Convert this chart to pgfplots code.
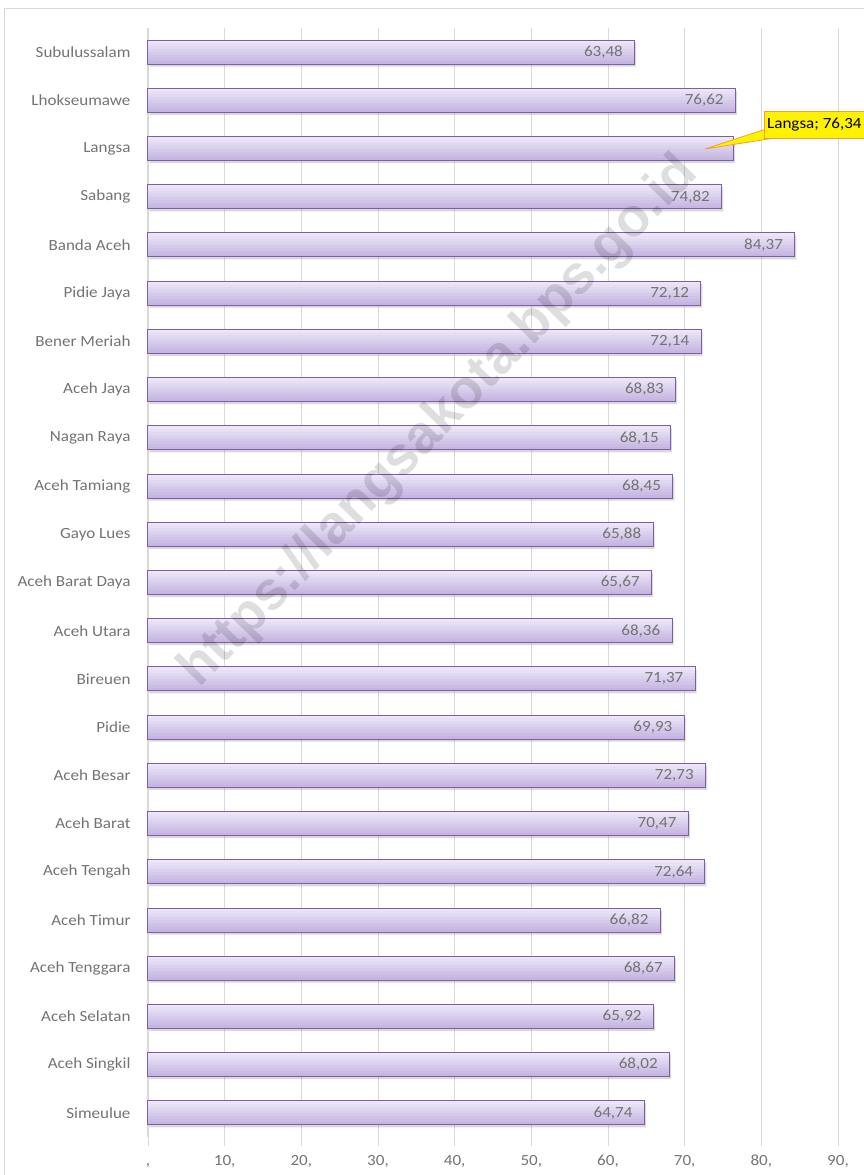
\documentclass[border=0pt]{standalone}
\usepackage{pgfplots}
\pgfplotsset{compat=1.18}
\usepackage{pgfplotstable}
\usepackage{fontspec}
\setmainfont{Carlito}[FakeStretch=1.1]
\newfontfamily\wmfont{Liberation Sans}
\usetikzlibrary{shadows}

\definecolor{barTop}{HTML}{ECE6F7}
\definecolor{barBot}{HTML}{C6B5E1}
\definecolor{barEdge}{HTML}{7D5FA9}
\definecolor{txt}{HTML}{737373}
\definecolor{gridc}{HTML}{D9D9D9}
\definecolor{callEdge}{HTML}{F0A030}

% idx 0 = Simeulue (bottom) ... 22 = Subulussalam (top)
\pgfplotstableread{
idx val lab
0 64.74 64,74
1 68.02 68,02
2 65.92 65,92
3 68.67 68,67
4 66.82 66,82
5 72.64 72,64
6 70.47 70,47
7 72.73 72,73
8 69.93 69,93
9 71.37 71,37
10 68.36 68,36
11 65.67 65,67
12 65.88 65,88
13 68.45 68,45
14 68.15 68,15
15 68.83 68,83
16 72.14 72,14
17 72.12 72,12
18 84.37 84,37
19 74.82 74,82
20 76.34 {}
21 76.62 76,62
22 63.48 63,48
}\apmdata

\begin{document}
\begin{tikzpicture}
\draw[gridc] (4.5pt,-10pt) rectangle (880pt,1167pt);
\begin{axis}[
  at={(148pt,38pt)}, anchor=south west,
  scale only axis, width=690pt, height=1109pt,
  xmin=0, xmax=90, ymin=-0.5, ymax=22.5,
  xbar,
  axis lines*=left,
  x axis line style={draw=none},
  y axis line style={draw=gridc, line width=1pt},
  xmajorgrids, grid style={draw=gridc, line width=0.8pt},
  xtick={0,10,...,90},
  xticklabels={{,},{10,},{20,},{30,},{40,},{50,},{60,},{70,},{80,},{90,}},
  tick align=outside,
  xtick style={draw=gridc, line width=0.8pt},
  major tick length=9pt,
  ytick={0,...,22},
  yticklabels={Simeulue, Aceh Singkil, Aceh Selatan, Aceh Tenggara, Aceh Timur,
    Aceh Tengah, Aceh Barat, Aceh Besar, Pidie, Bireuen, Aceh Utara,
    Aceh Barat Daya, Gayo Lues, Aceh Tamiang, Nagan Raya, Aceh Jaya,
    Bener Meriah, Pidie Jaya, Banda Aceh, Sabang, Langsa, Lhokseumawe, Subulussalam},
  ytick style={draw=none},
  ticklabel style={font=\fontsize{15.5}{18}\selectfont, text=txt},
  xticklabel style={yshift=-5pt, text height=11pt, text depth=3pt},
  yticklabel style={xshift=-5pt},
  point meta=explicit symbolic,
  clip=false,
]
% base bar (darkest) with shadow
\addplot[draw=none, fill=barBot, bar width=24pt, bar shift=0pt,
  drop shadow={shadow xshift=1.5pt, shadow yshift=-2.5pt, opacity=0.3}]
  table[x=val, y=idx] {\apmdata};
% lighter layers towards the top of each bar (stepped gradient)
\addplot[draw=none, fill=barTop!14!barBot, bar width=21pt, bar shift=1.5pt] table[x=val, y=idx] {\apmdata};
\addplot[draw=none, fill=barTop!29!barBot, bar width=18pt, bar shift=3pt] table[x=val, y=idx] {\apmdata};
\addplot[draw=none, fill=barTop!43!barBot, bar width=15pt, bar shift=4.5pt] table[x=val, y=idx] {\apmdata};
\addplot[draw=none, fill=barTop!57!barBot, bar width=12pt, bar shift=6pt] table[x=val, y=idx] {\apmdata};
\addplot[draw=none, fill=barTop!71!barBot, bar width=9pt, bar shift=7.5pt] table[x=val, y=idx] {\apmdata};
\addplot[draw=none, fill=barTop!86!barBot, bar width=6pt, bar shift=9pt] table[x=val, y=idx] {\apmdata};
\addplot[draw=none, fill=barTop, bar width=3pt, bar shift=10.5pt] table[x=val, y=idx] {\apmdata};
% outline and value labels
\addplot[draw=barEdge, line width=1pt, fill=none, bar width=24pt, bar shift=0pt,
  nodes near coords,
  every node near coord/.append style={anchor=east, xshift=-8pt,
    font=\fontsize{15.5}{18}\selectfont, text=txt}]
  table[x=val, y=idx, meta=lab] {\apmdata};
\end{axis}
% callout for Langsa
\filldraw[fill=yellow, draw=callEdge, line width=0.8pt]
  (766pt,1046pt) -- (705pt,1026pt) -- (778pt,1037.5pt) -- cycle;
\filldraw[fill=yellow, draw=callEdge, line width=0.8pt] (764pt,1037pt) rectangle (880pt,1064pt);
\fill[yellow] (765pt,1038pt) -- (766pt,1046pt) -- (778pt,1038pt) -- cycle;
\node[anchor=west, inner sep=0pt, font=\fontsize{15.5}{18}\selectfont] at (767pt,1050.5pt) {Langsa; 76,34};
% watermark
\node[rotate=45.8, font=\wmfont\bfseries\fontsize{54}{60}\selectfont, text=black, text opacity=0.13]
  at (440pt,753pt) {https://langsakota.bps.go.id};
\pgfresetboundingbox
\useasboundingbox (0,0) rectangle (863pt,1175pt);
\end{tikzpicture}
\end{document}
